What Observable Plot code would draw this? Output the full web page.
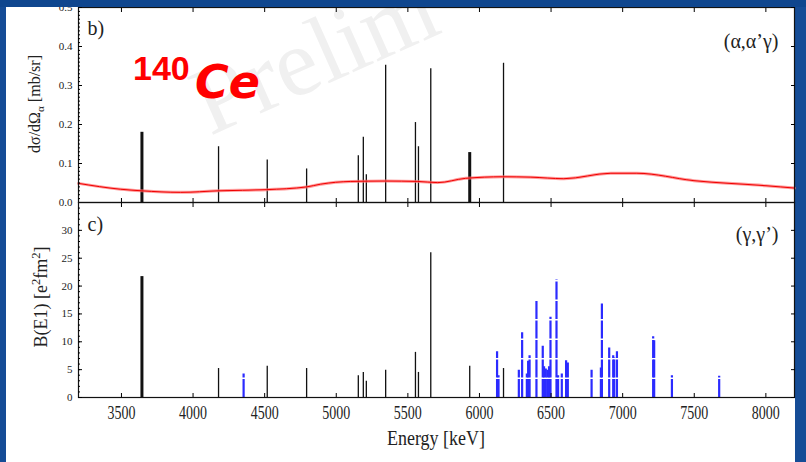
<!DOCTYPE html>
<html>
<head>
<meta charset="utf-8">
<script src="https://cdn.jsdelivr.net/npm/d3@7"></script>
<script src="https://cdn.jsdelivr.net/npm/@observablehq/plot@0.6"></script>
<style>
  body { margin: 0; background: #154c96; }
  #slide { position: relative; width: 806px; height: 462px; overflow: hidden; background: #154c96; }
  #sheet { position: absolute; left: 6px; top: 0; width: 789px; height: 462px; background: #fff; }
  #band { position: absolute; left: 0; top: 0; width: 806px; height: 7px; background: #0f468e; }
  .abs { position: absolute; }
  .ytitle { position: absolute; transform: translate(-50%, -50%) rotate(-90deg); white-space: nowrap;
            font-family: "Liberation Serif", serif; color: #222; }
  .ytitle sub, .ytitle sup { font-size: 70%; }
  #xtitle { position: absolute; left: 436px; top: 439px; transform: translate(-50%, -50%) scale(1, 1.17);
            font: 18px "Liberation Serif", serif; color: #222; white-space: nowrap; }
</style>
</head>
<body>
<div id="slide">
  <div id="sheet"></div>
  <svg id="deco" class="abs" width="806" height="462" style="left:0;top:0">
    <text transform="translate(210,136) rotate(-24)" font-family="Liberation Serif" font-size="96" fill="#f0f0f0">Prelim</text>
    <text x="133" y="80" font-family="Liberation Sans" font-weight="bold" font-size="34" fill="#ff0000">140</text>
    <text x="195" y="98" font-family="DejaVu Sans" font-weight="bold" font-style="italic" font-size="46" fill="#ff0000">Ce</text>
  </svg>
  <div id="top" class="abs" style="left:0;top:0"></div>
  <div id="bottom" class="abs" style="left:0;top:202px"></div>
  <div class="ytitle" style="left:36px;top:104px;font-size:16px">d&sigma;/d&Omega;<sub>&alpha;</sub> [mb/sr]</div>
  <div class="ytitle" style="left:40px;top:297px;font-size:18px">B(E1) [e<sup>2</sup>fm<sup>2</sup>]</div>
  <div id="xtitle">Energy [keV]</div>
  <div id="band"></div>
</div>
<script>
// ---- (α,α'γ) cross sections of the 1- states in 140Ce ----
const alphaEnergy = [3643, 4178, 4518, 4793, 5154, 5189, 5210, 5345, 5553, 5574, 5660, 5932, 6168];
const alphaXS     = [0.180, 0.143, 0.109, 0.086, 0.120, 0.167, 0.071, 0.352, 0.205, 0.143, 0.343, 0.128, 0.357];

// detection limit of the (α,α'γ) experiment
const limitEnergy = [3200, 3494, 3640, 3913, 4178, 4514, 4793, 4891, 5101, 5345, 5569, 5709, 5904, 6163, 6359, 6589, 6918, 7099, 7498, 8001, 8200];
const limitXS     = [0.049, 0.034, 0.030, 0.026, 0.030, 0.033, 0.040, 0.047, 0.054, 0.055, 0.054, 0.051, 0.062, 0.066, 0.065, 0.061, 0.075, 0.075, 0.056, 0.043, 0.037];

// ---- (γ,γ') B(E1) strengths: states also seen in (α,α'γ) ----
const gammaEnergy = [3643, 4178, 4518, 4793, 5154, 5189, 5210, 5345, 5553, 5574, 5660, 5932, 6168];
const gammaBE1    = [21.7, 5.2, 5.6, 5.2, 3.9, 4.5, 2.9, 4.9, 8.1, 4.5, 26.0, 5.6, 5.2];

// states seen only in (γ,γ')
const photonOnlyEnergy = [4353, 6123, 6133, 6275, 6298, 6331, 6340, 6350, 6398, 6442, 6451, 6463, 6475, 6486, 6496,
                          6538, 6549, 6575, 6605, 6617, 6783, 6848, 6855, 6906, 6934, 6941, 6960, 7213, 7220, 7344, 7674];
const photonOnlyBE1    = [4.2, 8.2, 3.9, 4.9, 11.6, 4.2, 6.5, 7.5, 17.5, 9.2, 5.5, 5.1, 4.9, 5.5, 14.4,
                          21.1, 3.9, 4.2, 6.6, 6.2, 4.9, 5.3, 16.8, 8.9, 7.5, 7.1, 8.2, 10.9, 10.2, 3.9, 3.8];

// axis ticks
const energyTicks = [3500, 4000, 4500, 5000, 5500, 6000, 6500, 7000, 7500, 8000];
const xsTicks  = [0, 0.1, 0.2, 0.3, 0.4, 0.5];
const be1Ticks = [0, 5, 10, 15, 20, 25, 30];

const zip = (xs, ys) => xs.map((x, i) => ({E: x, v: ys[i]}));
const alpha = zip(alphaEnergy, alphaXS);
const limit = zip(limitEnergy, limitXS);
const gamma = zip(gammaEnergy, gammaBE1);
const photonOnly = zip(photonOnlyEnergy, photonOnlyBE1);

const serif = "Liberation Serif";
const blank = () => "";

// Mathematica-style frame: inward ticks on all four sides, minor ticks on the left
function frameMarks(yTicks, yMinor, yFormat, bottomLabels) {
  return [
    Plot.frame({stroke: "#111", strokeWidth: 1.2}),
    Plot.axisX({ticks: energyTicks, anchor: "top", tickSize: -4, tickFormat: blank, label: null}),
    bottomLabels
      ? Plot.axisX({ticks: energyTicks, anchor: "bottom", tickSize: -4, tickPadding: 12, tickFormat: "d",
                    fontSize: 14, fill: "#222", label: null})
      : Plot.axisX({ticks: energyTicks, anchor: "bottom", tickSize: -4, tickFormat: blank, label: null}),
    Plot.axisY({ticks: yTicks, anchor: "left", tickSize: -4, tickPadding: 10, tickFormat: yFormat,
                fontSize: 11, fill: "#222", label: null}),
    Plot.axisY({ticks: yMinor, anchor: "left", tickSize: -2, tickFormat: blank, label: null}),
    Plot.axisY({ticks: yTicks, anchor: "right", tickSize: -4, tickFormat: blank, label: null})
  ];
}

// unresolved doublets are drawn with a heavier line
const heavy = (list) => (d) => list.includes(d.E) ? 3 : 1.3;

const topPlot = Plot.plot({
  width: 806, height: 202,
  marginLeft: 78, marginRight: 12, marginTop: 7, marginBottom: 0,
  style: {background: "transparent", fontFamily: serif, overflow: "visible"},
  x: {domain: [3200, 8200], axis: null},
  y: {domain: [0, 0.5], axis: null},
  marks: [
    Plot.ruleX(alpha, {x: "E", y: "v", stroke: "#111", strokeWidth: heavy([3643, 5932])}),
    Plot.line(limit, {x: "E", y: "v", stroke: "#ff7070", strokeOpacity: 0.7, strokeWidth: 3, curve: "monotone-x"}),
    Plot.line(limit, {x: "E", y: "v", stroke: "#f00000", strokeWidth: 1, curve: "monotone-x"}),
    Plot.text(["b)"], {frameAnchor: "top-left", dx: 9, dy: 13, fontSize: 20, fill: "#222", textAnchor: "start"}),
    Plot.text(["(α,α’γ)"], {frameAnchor: "top-right", dx: -16, dy: 26, fontSize: 20, fill: "#222", textAnchor: "end"}),
    ...frameMarks(xsTicks, d3.range(0, 0.5, 0.01), ".1f", false)
  ]
});

const bottomPlot = Plot.plot({
  width: 806, height: 260,
  marginLeft: 78, marginRight: 12, marginTop: 0, marginBottom: 65,
  style: {background: "transparent", fontFamily: serif, overflow: "visible"},
  x: {domain: [3200, 8200], axis: null},
  y: {domain: [0, 35], axis: null},
  marks: [
    Plot.ruleX(gamma, {x: "E", y: "v", stroke: "#111", strokeWidth: heavy([3643])}),
    Plot.ruleX(photonOnly, {x: "E", y: "v", stroke: "#2b2bff", strokeWidth: 2.2, strokeDasharray: "18,1.5"}),
    Plot.text(["c)"], {frameAnchor: "top-left", dx: 9, dy: 14, fontSize: 20, fill: "#222", textAnchor: "start"}),
    Plot.text(["(γ,γ’)"], {frameAnchor: "top-right", dx: -16, dy: 24, fontSize: 20, fill: "#222", textAnchor: "end"}),
    ...frameMarks(be1Ticks, d3.range(0, 35, 1), "d", true)
  ]
});

document.getElementById("top").append(topPlot);
document.getElementById("bottom").append(bottomPlot);

// tall, narrow energy labels
bottomPlot.querySelectorAll('g[aria-label="x-axis tick label"] text').forEach((t) => {
  t.setAttribute("transform", (t.getAttribute("transform") || "") + " scale(1,1.35)");
});
</script>
</body>
</html>
